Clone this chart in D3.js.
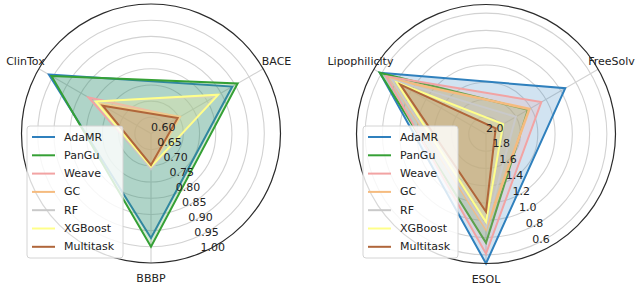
<!DOCTYPE html>
<html>
<head>
<meta charset="utf-8">
<script src="https://cdn.jsdelivr.net/npm/d3@7"></script>
<style>
  html, body { margin: 0; padding: 0; background: #fff; }
  svg { display: block; font-family: 'DejaVu Sans', sans-serif; }
</style>
</head>
<body>
<svg id="chart" width="640" height="293"></svg>
<script>
// radar charts — classification (left) and regression (right)

const models = ['AdaMR', 'PanGu', 'Weave', 'GC', 'RF', 'XGBoost', 'Multitask'];
const modelColors = ['#2f80bd', '#35a035', '#f2a3a3', '#f5bb7f', '#c9c9c9', '#ffff8a', '#b0663a'];

const clsAxes = ['ClinTox', 'BACE', 'BBBP'];
const clsTicks = [0.60, 0.65, 0.70, 0.75, 0.80, 0.85, 0.90, 0.95, 1.00];
// one row per model, columns follow clsAxes
const clsScores = [
  [0.964, 0.890, 0.923],
  [0.955, 0.909, 0.950],
  [0.822, 0.700, 0.705],
  [0.782, 0.702, 0.700],
  [0.800, 0.830, 0.710],
  [0.797, 0.840, 0.703],
  [0.772, 0.695, 0.697]
];

const regAxes = ['Lipophilicity', 'FreeSolv', 'ESOL'];
const regTicks = [2.0, 1.8, 1.6, 1.4, 1.2, 1.0, 0.8, 0.6];
const regScores = [
  [0.580, 0.940, 0.500],
  [0.580, 1.440, 0.740],
  [0.663, 1.260, 0.613],
  [0.727, 1.420, 0.900],
  [0.740, 1.600, 0.920],
  [0.806, 1.770, 0.980],
  [0.855, 1.870, 1.100]
];

const svg = d3.select('#chart');
const R = 129.5;

function radar(opts) {
  const g = svg.append('g').attr('transform', `translate(${opts.cx},${opts.cy})`);
  const r = d3.scaleLinear().domain(opts.domain).range([0, R]);
  // d3 radial angle: 0 = up, clockwise
  const ang = i => (i * 120 - 60) * Math.PI / 180;
  const px = (i, rr) => [rr * Math.sin(ang(i)), -rr * Math.cos(ang(i))];

  // grid circles
  g.selectAll('.ring')
    .data(opts.ticks.filter(t => r(t) > 0.5 && r(t) < R - 0.5))
    .enter().append('circle')
    .attr('r', d => r(d))
    .attr('fill', 'none')
    .attr('stroke', '#d2d2d2')
    .attr('stroke-width', 1.1);

  // spokes
  opts.axes.forEach((a, i) => {
    const [x, y] = px(i, R);
    g.append('line')
      .attr('x1', 0).attr('y1', 0).attr('x2', x).attr('y2', y)
      .attr('stroke', '#d2d2d2').attr('stroke-width', 1.1);
  });

  const line = d3.lineRadial()
    .angle((d, i) => ang(i))
    .radius(d => r(d))
    .curve(d3.curveLinearClosed);

  // polygons
  opts.scores.forEach((row, k) => {
    g.append('path')
      .attr('d', line(row))
      .attr('fill', modelColors[k])
      .attr('fill-opacity', 0.22)
      .attr('stroke', modelColors[k])
      .attr('stroke-width', k === 3 ? 2.6 : 2)
      .attr('stroke-linejoin', 'miter');
  });

  // outer spine
  g.append('circle')
    .attr('r', R)
    .attr('fill', 'none')
    .attr('stroke', '#2b2b2b')
    .attr('stroke-width', 1.2);

  // radial tick labels along -67.5deg
  const la = 157.5 * Math.PI / 180;
  opts.ticks.forEach(t => {
    g.append('text')
      .attr('x', r(t) * Math.sin(la))
      .attr('y', -r(t) * Math.cos(la) - 2.5)
      .attr('font-size', '11px')
      .attr('fill', '#222')
      .text(opts.fmt(t));
  });

  // axis labels
  opts.axes.forEach((a, i) => {
    const [x, y] = px(i, 145);
    g.append('text')
      .attr('x', x).attr('y', y)
      .attr('text-anchor', 'middle')
      .attr('dominant-baseline', 'central')
      .attr('font-size', '11px')
      .attr('fill', '#222')
      .text(a);
  });

  // legend
  const leg = svg.append('g').attr('transform', `translate(${opts.legX},126)`);
  leg.append('rect')
    .attr('width', opts.legW).attr('height', 132)
    .attr('rx', 3).attr('ry', 3)
    .attr('fill', '#fff').attr('fill-opacity', 0.82)
    .attr('stroke', '#d4d4d4').attr('stroke-width', 1);
  models.forEach((m, k) => {
    const y = 11 + k * 18.3;
    leg.append('line')
      .attr('x1', 5).attr('x2', 28).attr('y1', y).attr('y2', y)
      .attr('stroke', modelColors[k]).attr('stroke-width', 2);
    leg.append('text')
      .attr('x', 37).attr('y', y)
      .attr('dominant-baseline', 'central')
      .attr('font-size', '11px')
      .attr('fill', '#222')
      .text(m);
  });
}

radar({
  cx: 151, cy: 133.5, domain: [0.6, 1.0],
  axes: clsAxes, ticks: clsTicks, scores: clsScores,
  fmt: d3.format('.2f'), legX: 27, legW: 96
});

radar({
  cx: 486, cy: 134, domain: [2.0, 0.5],
  axes: regAxes, ticks: regTicks, scores: regScores,
  fmt: d3.format('.1f'), legX: 363, legW: 95
});
</script>
</body>
</html>
